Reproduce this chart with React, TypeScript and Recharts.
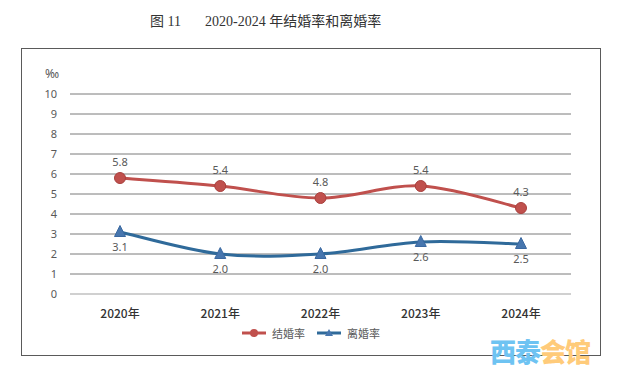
import React from "react";
import { LineChart, Line, XAxis, YAxis, CartesianGrid, Legend, LabelList } from "recharts";

const years = ["2020年", "2021年", "2022年", "2023年", "2024年"];
const marriageRate = [5.8, 5.4, 4.8, 5.4, 4.3];
const divorceRate = [3.1, 2.0, 2.0, 2.6, 2.5];
const yTicks = [0, 1, 2, 3, 4, 5, 6, 7, 8, 9, 10];
const seriesNames = { marriage: "结婚率", divorce: "离婚率" };
const titleParts = ["图 11", "2020-2024 年结婚率和离婚率"];
const unitLabel = "‰";

const data = years.map((y, i) => ({ year: y, marriage: marriageRate[i], divorce: divorceRate[i] }));

const RED = "#C0504D";
const BLUE = "#2F6A9A";
const BLUE_MARK = "#4776AE";

// Excel-like smooth curve (Catmull-Rom as cubic bezier)
const excelCurve = (context: any) => {
  let pts: number[][] = [];
  return {
    areaStart() {},
    areaEnd() {},
    lineStart() {
      pts = [];
    },
    point(x: number, y: number) {
      pts.push([+x, +y]);
    },
    lineEnd() {
      const n = pts.length;
      if (!n) return;
      context.moveTo(pts[0][0], pts[0][1]);
      for (let i = 0; i < n - 1; i++) {
        const p0 = pts[Math.max(i - 1, 0)];
        const p1 = pts[i];
        const p2 = pts[i + 1];
        const p3 = pts[Math.min(i + 2, n - 1)];
        const c1x = p1[0] + (p2[0] - p0[0]) / 6;
        const c1y = p1[1] + (p2[1] - p0[1]) / 6;
        const c2x = p2[0] - (p3[0] - p1[0]) / 6;
        const c2y = p2[1] - (p3[1] - p1[1]) / 6;
        context.bezierCurveTo(c1x, c1y, c2x, c2y, p2[0], p2[1]);
      }
    },
  };
};

const CircleDot = (props: any) => {
  const { cx, cy } = props;
  if (cx == null || cy == null) return null;
  return <circle cx={cx} cy={cy} r={5.5} fill={RED} stroke="#A9403D" strokeWidth={1} />;
};

const TriDot = (props: any) => {
  const { cx, cy } = props;
  if (cx == null || cy == null) return null;
  const s = 5.5;
  return (
    <polygon
      points={`${cx},${cy - s - 1} ${cx - s},${cy + s - 1} ${cx + s},${cy + s - 1}`}
      fill={BLUE_MARK}
      stroke="#3A68A0"
      strokeWidth={1}
    />
  );
};

const LegendContent = () => (
  <div
    style={{
      display: "flex",
      justifyContent: "center",
      alignItems: "center",
      fontFamily: "'Noto Sans CJK SC', sans-serif",
      fontSize: 11,
      color: "#595959",
      gap: 12,
    }}
  >
    <div style={{ display: "flex", alignItems: "center", gap: 6 }}>
      <svg width={24} height={12}>
        <line x1={0} y1={6} x2={24} y2={6} stroke={RED} strokeWidth={3} />
        <circle cx={12} cy={6} r={4} fill={RED} />
      </svg>
      <span>{seriesNames.marriage}</span>
    </div>
    <div style={{ display: "flex", alignItems: "center", gap: 6 }}>
      <svg width={24} height={12}>
        <line x1={0} y1={6} x2={24} y2={6} stroke={BLUE} strokeWidth={3} />
        <polygon points="12,2 8,9 16,9" fill={BLUE_MARK} />
      </svg>
      <span>{seriesNames.divorce}</span>
    </div>
  </div>
);

export default function App() {
  return (
    <div
      style={{
        position: "fixed",
        left: 0,
        top: 0,
        width: 622,
        height: 376,
        background: "#fff",
        overflow: "hidden",
      }}
    >
      <div
        style={{
          position: "absolute",
          top: 10,
          left: 150,
          fontFamily: "'Liberation Serif', 'Noto Sans CJK SC', serif",
          fontSize: 14,
          color: "#333",
          whiteSpace: "pre",
          letterSpacing: 0,
        }}
      >
        {titleParts[0]}
        <span style={{ display: "inline-block", width: 24 }} />
        {titleParts[1]}
      </div>
      <div
        style={{
          position: "absolute",
          left: 21,
          top: 48,
          width: 580,
          height: 308,
          border: "1px solid #5a5a5a",
          boxSizing: "border-box",
        }}
      />
      <div
        style={{
          position: "absolute",
          left: 45,
          top: 65,
          fontFamily: "'Noto Sans', sans-serif",
          fontSize: 12,
          color: "#595959",
        }}
      >
        {unitLabel}
      </div>
      <div style={{ position: "absolute", left: 0, top: 0 }}>
        <LineChart
          width={622}
          height={376}
          data={data}
          margin={{ top: 94, right: 51, left: 20, bottom: 0 }}
        >
          <CartesianGrid horizontal vertical={false} stroke="#7a7a7a" strokeWidth={1} />
          <XAxis
            dataKey="year"
            height={82}
            padding={{ left: 50, right: 50 }}
            axisLine={{ stroke: "#d0d0d0", strokeWidth: 2 }}
            tickLine={false}
            tickMargin={9}
            tick={{ fill: "#333", fontSize: 12, fontFamily: "'Noto Sans CJK SC', sans-serif", fontWeight: 500 }}
          />
          <YAxis
            width={50}
            domain={[0, 10]}
            ticks={yTicks}
            interval={0}
            axisLine={false}
            tickLine={false}
            tickSize={0}
            tickMargin={13}
            tick={{ fill: "#595959", fontSize: 11, fontFamily: "'Noto Sans', sans-serif" }}
          />
          <Legend
            verticalAlign="middle"
            layout="horizontal"
            wrapperStyle={{ top: 325, left: 0, width: 622 }}
            content={LegendContent}
          />
          <Line
            dataKey="marriage"
            name={seriesNames.marriage}
            type={excelCurve as any}
            stroke={RED}
            strokeWidth={3}
            dot={<CircleDot />}
            activeDot={false}
            isAnimationActive={false}
          >
            <LabelList
              dataKey="marriage"
              position="top"
              offset={12}
              fill="#595959"
              fontSize={11}
              fontFamily="'Noto Sans', sans-serif"
              formatter={(v: any) => Number(v).toFixed(1)}
            />
          </Line>
          <Line
            dataKey="divorce"
            name={seriesNames.divorce}
            type={excelCurve as any}
            stroke={BLUE}
            strokeWidth={3}
            dot={<TriDot />}
            activeDot={false}
            isAnimationActive={false}
          >
            <LabelList
              dataKey="divorce"
              position="bottom"
              offset={11}
              fill="#595959"
              fontSize={11}
              fontFamily="'Noto Sans', sans-serif"
              formatter={(v: any) => Number(v).toFixed(1)}
            />
          </Line>
        </LineChart>
      </div>
      <div
        style={{
          position: "absolute",
          left: 490,
          top: 336,
          fontFamily: "'Noto Sans CJK SC', sans-serif",
          fontSize: 26,
          fontWeight: 900,
          lineHeight: "30px",
          letterSpacing: -1,
        }}
      >
        <span style={{ color: "#6EC3F2" }}>西泰</span>
        <span style={{ color: "#FFCB7A" }}>会馆</span>
      </div>
    </div>
  );
}
